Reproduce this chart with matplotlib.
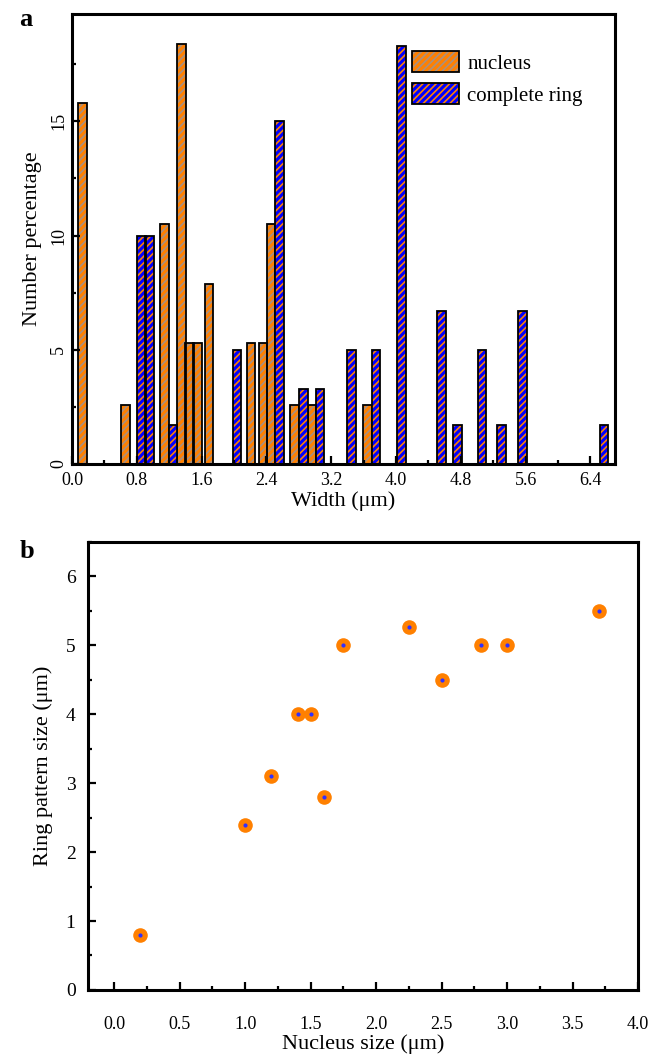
import numpy as np
import matplotlib
matplotlib.use("Agg")
import matplotlib.pyplot as plt
from matplotlib.patches import Patch
from matplotlib.ticker import MultipleLocator

plt.rcParams['font.family'] = ['Liberation Serif', 'DejaVu Serif']
plt.rcParams['hatch.linewidth'] = 1.2

# panel a: width histogram (percent of counts)
nucleus_pos = [0.13, 0.66, 1.14, 1.35, 1.45, 1.55, 1.69, 2.21, 2.36, 2.46, 2.75, 2.965, 3.65]
nucleus_pct = [15.8, 2.6, 10.5, 18.4, 5.3, 5.3, 7.9, 5.3, 5.3, 10.5, 2.6, 2.6, 2.6]
ring_pos = [0.86, 0.96, 1.25, 2.04, 2.56, 2.86, 3.06, 3.45, 3.75, 4.065,
            4.56, 4.76, 5.06, 5.30, 5.56, 6.57]
ring_pct = [10.0, 10.0, 1.7, 5.0, 15.0, 3.3, 3.3, 5.0, 5.0, 18.3,
            6.7, 1.7, 5.0, 1.7, 6.7, 1.7]

# panel b: ring size vs nucleus size
nuc_size = [0.2, 1.0, 1.2, 1.4, 1.5, 1.6, 1.75, 2.25, 2.5, 2.8, 3.0, 3.7]
ring_size = [0.8, 2.4, 3.1, 4.0, 4.0, 2.8, 5.0, 5.27, 4.5, 5.0, 5.0, 5.5]

orange = '#ff8000'
blue = '#0000ff'
nuc_hatch = '#a89080'
bar_w = 0.105


def hbars(ax, x, h, face, hcol):
    # hatched fill first, black outline on top
    ax.bar(x, h, width=bar_w, facecolor=face, edgecolor=hcol, hatch='/////', linewidth=0)
    ax.bar(x, h, width=bar_w, fill=False, edgecolor='black', linewidth=1.3)


def style(ax):
    for s in ax.spines.values():
        s.set_linewidth(2.2)
    ax.tick_params(which='both', direction='in', top=False, right=False, width=1.6)
    ax.tick_params(which='major', length=6)
    ax.tick_params(which='minor', length=3)


fig = plt.figure(figsize=(6.54, 10.59), dpi=100)

ax1 = fig.add_axes([0.110, 0.5618, 0.830, 0.425])
hbars(ax1, nucleus_pos, nucleus_pct, orange, nuc_hatch)
hbars(ax1, ring_pos, ring_pct, blue, orange)
ax1.set_xlim(0, 6.7)
ax1.set_ylim(0, 19.7)
ax1.xaxis.set_minor_locator(MultipleLocator(0.4))
ax1.yaxis.set_major_locator(MultipleLocator(5))
ax1.yaxis.set_minor_locator(MultipleLocator(2.5))
ax1.set_xticks(np.arange(0, 6.5, 0.8))
ax1.set_xticklabels(['%.1f' % v for v in np.arange(0, 6.5, 0.8)], fontsize=13)
style(ax1)
ax1.tick_params(axis='x', pad=6)
for lab in ax1.get_yticklabels():
    lab.set_fontsize(13)
    lab.set_rotation(90)
    lab.set_va('center')
ax1.set_xlabel('Width (\u03bcm)', fontsize=16, labelpad=1)
ax1.set_ylabel('Number percentage', fontsize=16, labelpad=6)

h_nuc = (Patch(facecolor=orange, edgecolor=nuc_hatch, hatch='/////', linewidth=0),
         Patch(fill=False, edgecolor='black', linewidth=1.3))
h_ring = (Patch(facecolor=blue, edgecolor=orange, hatch='/////', linewidth=0),
          Patch(fill=False, edgecolor='black', linewidth=1.3))
ax1.legend([h_nuc, h_ring], ['nucleus', 'complete ring'], loc='upper left',
           bbox_to_anchor=(0.627, 0.917), frameon=False, fontsize=15,
           handlelength=2.25, handleheight=1.15, handletextpad=0.4,
           borderpad=0, borderaxespad=0, labelspacing=0.45)
fig.text(0.030, 0.982, 'a', fontsize=19, fontweight='bold', va='center')

ax2 = fig.add_axes([0.1346, 0.0652, 0.8409, 0.4230])
ax2.plot(nuc_size, ring_size, 'o', color=orange, markersize=10.5, markeredgewidth=0)
ax2.plot(nuc_size, ring_size, 'o', color='#3030ff', markersize=3.0, markeredgewidth=0)
ax2.set_xlim(-0.2, 4.0)
ax2.set_ylim(0, 6.5)
ax2.xaxis.set_major_locator(MultipleLocator(0.5))
ax2.xaxis.set_minor_locator(MultipleLocator(0.25))
ax2.yaxis.set_major_locator(MultipleLocator(1))
ax2.yaxis.set_minor_locator(MultipleLocator(0.5))
style(ax2)
ax2.tick_params(axis='x', labelsize=13, pad=19)
ax2.tick_params(axis='y', labelsize=14, pad=9)
ax2.set_xlabel('Nucleus size (\u03bcm)', fontsize=16, labelpad=1)
ax2.set_ylabel('Ring pattern size (\u03bcm)', fontsize=16, labelpad=9)
fig.text(0.030, 0.479, 'b', fontsize=19, fontweight='bold', va='center')

fig.savefig('out.png', dpi=100)
